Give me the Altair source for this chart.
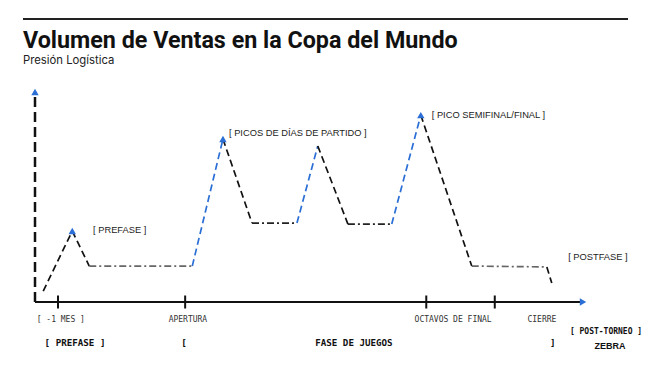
import altair as alt
import pandas as pd

# ---- data (time in abstract units 0-100, volume 0-100) ----
line_x = [1.5, 6.8, 9.9, 28.7, 34.3, 39.6, 47.8, 51.6, 57.1, 65.1, 70.4, 79.7, 93.4, 94.3]
line_y = [5.2, 33.8, 17.1, 17.1, 77.6, 37.6, 37.6, 74.3, 37.1, 37.1, 89.0, 17.1, 16.7, 9.0]
seg_style = ["bajada", "bajada", "meseta_gris", "subida", "bajada", "meseta", "subida",
             "bajada", "meseta", "subida", "bajada", "meseta_gris", "bajada"]

peak_x = [6.8, 34.3, 70.4]
peak_y = [33.8, 77.6, 89.0]

note_text = ["[ PREFASE ]", "[ PICOS DE DÍAS DE PARTIDO ]", "[ PICO SEMIFINAL/FINAL ]", "[ POSTFASE ]"]
note_x = [10.6, 35.4, 72.4, 97.3]
note_y = [34.3, 80.5, 89.0, 21.4]

tick_x = [4.2, 27.4, 71.4, 83.9]
tick_label = ["[ -1 MES ]", "APERTURA", "OCTAVOS DE FINAL", "CIERRE"]
tick_label_x = [4.7, 27.9, 76.3, 92.5]

phase_text = ["[  PREFASE  ]", "[", "FASE DE JUEGOS", "]"]
phase_x = [7.3, 27.2, 58.2, 94.5]

post_text = ["[ POST-TORNEO ]"]
post_x = [104.2]

title_text = "Volumen de Ventas en la Copa del Mundo"
subtitle_text = "Presión Logística"

BLUE = "#2b6fd6"
xs = alt.Scale(domain=[0, 100], nice=False, zero=False)
ys = alt.Scale(domain=[0, 100], nice=False, zero=False)
X = lambda f="x": alt.X(f + ":Q", scale=xs, axis=None)
Y = lambda f="y": alt.Y(f + ":Q", scale=ys, axis=None)

segs = pd.DataFrame({
    "x": line_x[:-1], "y": line_y[:-1], "x2": line_x[1:], "y2": line_y[1:], "estilo": seg_style
})
style_defs = {
    "subida": (BLUE, [7, 4]),
    "bajada": ("#111111", [7, 4]),
    "meseta": ("#222222", [7, 3, 2, 3]),
    "meseta_gris": ("#666666", [7, 3, 2, 3]),
}
seg_layers = []
for name, (col, dash) in style_defs.items():
    d = segs[segs["estilo"] == name]
    seg_layers.append(
        alt.Chart(d).mark_rule(strokeWidth=1.7, color=col, strokeDash=dash).encode(
            x=X(), y=Y(), x2="x2:Q", y2="y2:Q")
    )

peaks = pd.DataFrame({"x": peak_x, "y": peak_y})
notes = pd.DataFrame({"x": note_x, "y": note_y, "t": note_text})
ticks = pd.DataFrame({"x": tick_x, "y": [0] * len(tick_x)})
tlabels = pd.DataFrame({"x": tick_label_x, "y": [-8.6] * len(tick_label_x), "t": tick_label})
phases = pd.DataFrame({"x": phase_x, "y": [-19.5] * len(phase_x), "t": phase_text})
post = pd.DataFrame({"x": post_x, "y": [-14.3], "t": post_text})
logo = pd.DataFrame({"x": [104.0], "y": [-21.0], "t": ["ZEBRA"]})
axes_df = pd.DataFrame({"x": [0], "y": [0], "xe": [100], "ye": [100]})
titles = pd.DataFrame({"t": [title_text]})
subtitles = pd.DataFrame({"t": [subtitle_text]})

peak_marks = alt.Chart(peaks).mark_point(shape="triangle-up", filled=True, color=BLUE, size=55, opacity=1).encode(
    x=X(), y=Y())

note_marks = alt.Chart(notes).mark_text(align="left", baseline="middle", font="Liberation Sans", fontSize=9.3, color="#222").encode(
    x=X(), y=Y(), text="t:N")

yaxis = alt.Chart(axes_df).mark_rule(strokeWidth=2.5, color="#111", strokeDash=[10, 5]).encode(
    x=X(), y=Y(), y2="ye:Q")
xaxis = alt.Chart(axes_df).mark_rule(strokeWidth=2, color="#111").encode(
    x=X(), x2="xe:Q", y=Y())
yarrow = alt.Chart(axes_df).mark_point(shape="triangle-up", filled=True, color=BLUE, size=55, opacity=1).encode(
    x=X(), y=Y("ye"))
xarrow = alt.Chart(axes_df).mark_point(shape="triangle-right", filled=True, color=BLUE, size=55, opacity=1).encode(
    x=X("xe"), y=Y())

tick_marks = alt.Chart(ticks).mark_tick(orient="vertical", size=13, thickness=2, color="#111", opacity=1).encode(
    x=X(), y=Y())

mono = "DejaVu Sans Mono"
tick_text = alt.Chart(tlabels).mark_text(font=mono, fontSize=8, color="#333", baseline="middle").encode(
    x=X(), y=Y(), text="t:N")
phase_marks = alt.Chart(phases).mark_text(font=mono, fontSize=9.2, fontWeight="bold", color="#111", baseline="middle").encode(
    x=X(), y=Y(), text="t:N")
post_marks = alt.Chart(post).mark_text(font=mono, fontSize=8, fontWeight="bold", color="#111", baseline="middle").encode(
    x=X(), y=Y(), text="t:N")
logo_marks = alt.Chart(logo).mark_text(font="Liberation Sans", fontSize=9, fontWeight="bold", color="#111", baseline="middle", dx=5).encode(
    x=X(), y=Y(), text="t:N")

top_rule = alt.Chart(axes_df).mark_rule(strokeWidth=2, color="#222").encode(
    x=alt.value(-12), x2=alt.value(593), y=alt.value(-73))
title_mark = alt.Chart(titles).mark_text(
    align="left", baseline="alphabetic", font="Roboto", fontSize=23.3,
    fontWeight="bold", color="#111").encode(x=alt.value(-12), y=alt.value(-44.5), text="t:N")
subtitle_mark = alt.Chart(subtitles).mark_text(
    align="left", baseline="alphabetic", font="Inter", fontSize=11.3, color="#222").encode(
    x=alt.value(-12), y=alt.value(-28), text="t:N")

chart = alt.layer(
    top_rule, title_mark, subtitle_mark, yaxis, xaxis, *seg_layers, tick_marks, peak_marks, yarrow, xarrow,
    note_marks, tick_text, phase_marks, post_marks, logo_marks,
).properties(
    width=548, height=210,
    autosize=alt.AutoSizeParams(type="none"),
    padding={"left": 35, "top": 92, "right": 67, "bottom": 63},
).configure(
    background="white",
    view=alt.ViewConfig(strokeWidth=0, stroke="transparent"),
)

chart.save("out.html", embed_options={"renderer": "svg", "actions": False})
